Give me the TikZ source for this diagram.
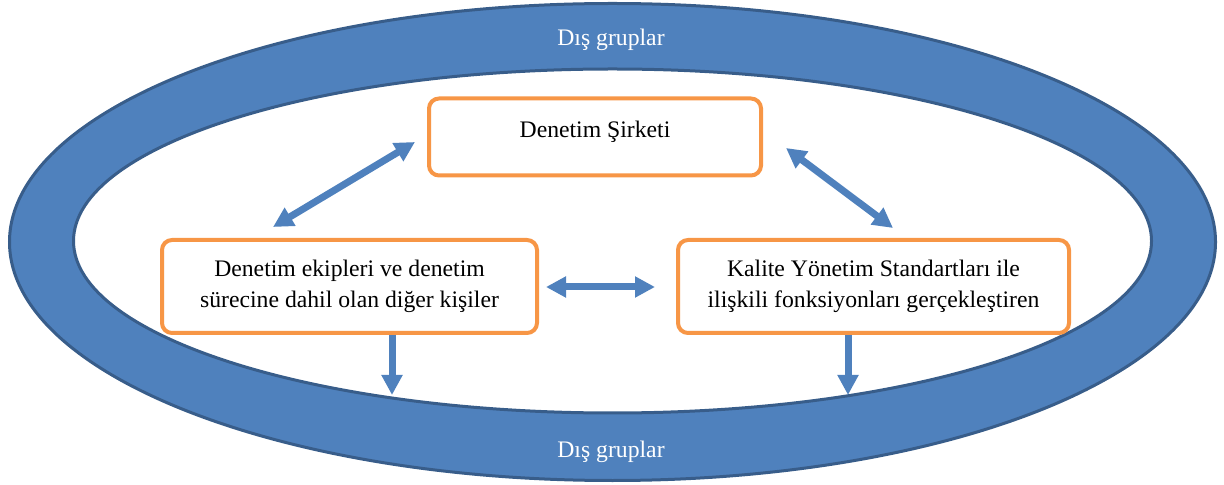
\documentclass[tikz,border=0pt]{standalone}
\usepackage{fontspec}
\setmainfont{Liberation Serif}
\usetikzlibrary{arrows.meta}

\definecolor{ringblue}{HTML}{4F81BD}
\definecolor{ringedge}{HTML}{385D8A}
\definecolor{boxorange}{HTML}{F79646}

\tikzset{
  partybox/.style = {draw = boxorange, line width = 2pt, rounded corners = 5pt,
                     fill = white, align = center, inner sep = 0pt,
                     font = \fontsize{11.85}{15.5}\selectfont},
  ringtext/.style = {text = white, font = \fontsize{11.85}{15.5}\selectfont},
  linkarrow/.style = {ringblue, line width = 3.5pt,
                      {Triangle[width = 10pt, length = 10pt]}-{Triangle[width = 10pt, length = 10pt]}},
  downarrow/.style = {ringblue, line width = 3.5pt,
                      -{Triangle[width = 10pt, length = 10pt]}}
}

\begin{document}
\begin{tikzpicture}[x = 0.5pt, y = -0.5pt]
          \useasboundingbox (0,0) rectangle (1224,485);

          % ring of outside groups
          \fill[ringblue, even odd rule]
                (612.5,242) ellipse [x radius = 603, y radius = 238.5]
                (612.5,241) ellipse [x radius = 539, y radius = 172];
          \draw[ringedge, line width = 1.5pt] (612.5,242) ellipse [x radius = 603, y radius = 238.5];
          \draw[ringedge, line width = 1.5pt] (612.5,241) ellipse [x radius = 539, y radius = 172];

          \node[ringtext] at (611, 40)  (distop) {Dış gruplar};
          \node[ringtext] at (611, 452) (disbot) {Dış gruplar};

          % parties
          \node[partybox, minimum width = 166pt, minimum height = 38.5pt,
                text height = 0.7em, text depth = 0.6em]
                at (595, 137)    (sirket) {Denetim Şirketi};
          \node[partybox, minimum width = 187.5pt, minimum height = 46.5pt]
                at (349.5, 286.5) (ekip)   {Denetim ekipleri ve denetim\\sürecine dahil olan diğer kişiler};
          \node[partybox, minimum width = 195.5pt, minimum height = 46.5pt]
                at (873.5, 286.5) (kalite) {Kalite Yönetim Standartları ile\\ilişkili fonksiyonları gerçekleştiren};

          % arrow ends
          \coordinate (ekipup)    at (273, 227);
          \coordinate (sirketlw)  at (415, 142);
          \coordinate (sirketrw)  at (786, 148);
          \coordinate (kaliteup)  at (893, 228);
          \coordinate (ekipri)    at (546, 287);
          \coordinate (kalitele)  at (655, 287);
          \coordinate (ekipout)   at (392, 395);
          \coordinate (kaliteout) at (848, 395);

          \draw[linkarrow] (ekipup) -- (sirketlw);
          \draw[linkarrow] (sirketrw) -- (kaliteup);
          \draw[linkarrow] (ekipri) -- (kalitele);
          \draw[downarrow] (ekip.south -| ekipout) -- (ekipout);
          \draw[downarrow] (kalite.south -| kaliteout) -- (kaliteout);
        \end{tikzpicture}
\end{document}
